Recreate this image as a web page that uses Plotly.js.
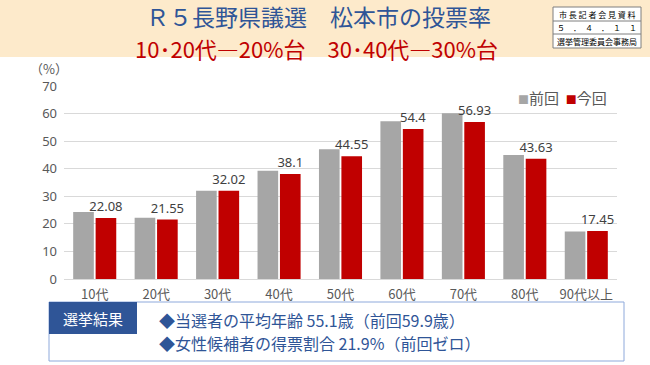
<!DOCTYPE html>
<html><head><meta charset="utf-8">
<script src="https://cdn.plot.ly/plotly-3.0.1.min.js"></script>
<style>html,body{margin:0;padding:0;background:#fff;}#chart{width:650px;height:365px;}</style>
</head><body><div id="chart"></div>
<script>
const categories = ['10代','20代','30代','40代','50代','60代','70代','80代','90代以上'];
const previousRates = [24.3, 22.2, 32.0, 39.3, 47.1, 57.2, 60.1, 45.0, 17.2];
const currentRates = [22.08, 21.55, 32.02, 38.1, 44.55, 54.4, 56.93, 43.63, 17.45];
const seriesNames = ['前回','今回'];
const seriesColors = ['#A6A6A6','#C00000'];
const currentLabels = ['22.08','21.55','32.02','38.1','44.55','54.4','56.93','43.63','17.45'];

const FONT = 'Noto Sans, Noto Sans CJK JP, sans-serif';
const JP = 'Noto Sans CJK JP, sans-serif';

const traces = [
  {type:'bar', name:seriesNames[0], x:categories, y:previousRates,
   marker:{color:seriesColors[0]}, hoverinfo:'skip'},
  {type:'bar', name:seriesNames[1], x:categories, y:currentRates,
   marker:{color:seriesColors[1]}, text:currentLabels, textposition:'outside', constraintext:'none',
   textfont:{family:FONT, size:13, color:'#404040'}, cliponaxis:false, hoverinfo:'skip'}
];

// plot area: left 64, right 617, top 86, bottom 279
const L=64, R=617, T=86, B=279;
const px = v => (v-L)/(R-L);
const py = v => (B-v)/(B-T);

const legendText = '<span style="color:'+seriesColors[0]+';font-size:11px">■</span>' + seriesNames[0] +
  '  <span style="color:'+seriesColors[1]+';font-size:11px">■</span>' + seriesNames[1];

const layout = {
  width:650, height:365,
  margin:{l:L, r:650-R, t:T, b:365-B},
  paper_bgcolor:'#fff', plot_bgcolor:'#fff',
  font:{family:FONT, color:'#595959'},
  barmode:'group', bargap:0.27, bargroupgap:0.08,
  showlegend:false,
  xaxis:{type:'category', showgrid:false, showline:false, ticks:'',
         tickfont:{family:JP, size:13, color:'#595959'}, ticklabelstandoff:6},
  yaxis:{range:[0,70], dtick:10, showgrid:true, gridcolor:'#D9D9D9', gridwidth:1,
         zeroline:true, zerolinecolor:'#D9D9D9', zerolinewidth:1, showline:false, ticks:'',
         tickfont:{family:FONT, size:13, color:'#595959'}, ticklabelstandoff:6},
  shapes:[
    {type:'rect', xref:'paper', yref:'paper', x0:px(0), x1:px(650), y0:py(57), y1:py(0),
     fillcolor:'#FDEACB', line:{width:0}, layer:'below'},
    {type:'rect', xref:'paper', yref:'paper', x0:px(553), x1:px(641), y0:py(48), y1:py(7),
     fillcolor:'#FFFFFF', line:{color:'#7F7F7F', width:1}},
    {type:'line', xref:'paper', yref:'paper', x0:px(553), x1:px(641), y0:py(21), y1:py(21),
     line:{color:'#7F7F7F', width:1}},
    {type:'line', xref:'paper', yref:'paper', x0:px(553), x1:px(641), y0:py(34), y1:py(34),
     line:{color:'#7F7F7F', width:1}},
    {type:'rect', xref:'paper', yref:'paper', x0:px(49), x1:px(624), y0:py(361), y1:py(302),
     fillcolor:'rgba(0,0,0,0)', line:{color:'#8EA9DB', width:1}},
    {type:'rect', xref:'paper', yref:'paper', x0:px(49), x1:px(137), y0:py(334), y1:py(302),
     fillcolor:'#2F5597', line:{width:0}}
  ],
  annotations:[
    {xref:'paper', yref:'paper', x:px(318), y:py(16), text:'Ｒ５長野県議選　松本市の投票率', borderpad:0,
     showarrow:false, xanchor:'center', yanchor:'middle', font:{family:JP, size:23, color:'#2F5597'}},
    {xref:'paper', yref:'paper', x:px(316), y:py(48.5), text:'10･20代―20%台　30･40代―30%台', borderpad:0,
     showarrow:false, xanchor:'center', yanchor:'middle', font:{family:JP, size:22, color:'#C00000'}},
    {xref:'paper', yref:'paper', x:px(597), y:py(14), text:'市 長 記 者 会 見 資 料',
     showarrow:false, xanchor:'center', yanchor:'middle', font:{family:JP, size:8, color:'#000'}},
    {xref:'paper', yref:'paper', x:px(597), y:py(27.5), text:'５　．　４　．　１　１',
     showarrow:false, xanchor:'center', yanchor:'middle', font:{family:JP, size:8, color:'#000'}},
    {xref:'paper', yref:'paper', x:px(597), y:py(41), text:'選挙管理委員会事務局',
     showarrow:false, xanchor:'center', yanchor:'middle', font:{family:JP, size:8, color:'#000'}},
    {xref:'paper', yref:'paper', x:px(49), y:py(69), text:'（%）',
     showarrow:false, xanchor:'center', yanchor:'middle', font:{family:JP, size:13, color:'#595959'}},
    {xref:'paper', yref:'paper', x:px(609), y:py(97), text:legendText,
     showarrow:false, xanchor:'right', yanchor:'middle', font:{family:JP, size:15, color:'#595959'}},
    {xref:'paper', yref:'paper', x:px(93), y:py(318), text:'選挙結果',
     showarrow:false, xanchor:'center', yanchor:'middle', font:{family:JP, size:15, color:'#FFFFFF'}},
    {xref:'paper', yref:'paper', x:px(157), y:py(320), text:'◆当選者の平均年齢 55.1歳（前回59.9歳）',
     showarrow:false, xanchor:'left', yanchor:'middle', font:{family:JP, size:16, color:'#2F5597'}},
    {xref:'paper', yref:'paper', x:px(157), y:py(343), text:'◆女性候補者の得票割合 21.9%（前回ゼロ）',
     showarrow:false, xanchor:'left', yanchor:'middle', font:{family:JP, size:16, color:'#2F5597'}}
  ]
};

Plotly.newPlot('chart', traces, layout, {displayModeBar:false, staticPlot:true});
</script></body></html>
